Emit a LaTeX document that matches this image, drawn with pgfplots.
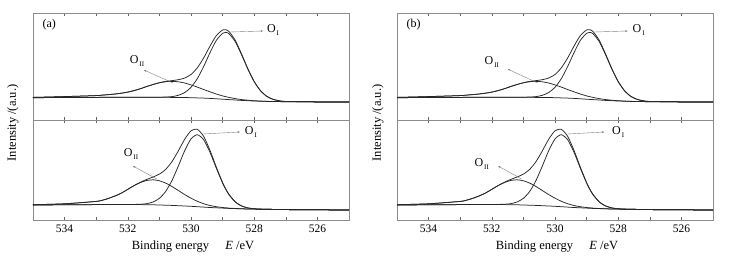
\documentclass[border=0pt]{standalone}
\usepackage{fontspec}
\setmainfont{Liberation Serif}
\usepackage{pgfplots}
\pgfplotsset{compat=1.18}
\usepackage{pgfplotstable}
\usetikzlibrary{arrows.meta}

% columns: energy, background, bg+O_I, bg+O_II, envelope
\pgfplotstableread{
x bg p1 p2 env
525 17.9 17.9 17.9 17.9
526 18.1 18.1 18.1 18.1
527.0 18.3 18.56 18.3 18.56
527.2 18.4 19.18 18.41 19.19
527.4 18.5 20.60 18.53 20.63
527.6 18.6 23.57 18.66 23.63
527.8 18.8 29.21 18.93 29.34
528.0 19.0 38.26 19.25 38.51
528.2 19.3 50.82 19.8 51.32
528.4 19.6 65.20 20.4 66.00
528.6 20.0 78.34 21.4 79.74
528.8 20.4 86.38 22.6 88.58
528.9 20.6 87.60 23.3 90.30
529.0 20.8 86.78 24.1 90.08
529.2 21.2 79.54 26.0 84.34
529.4 21.6 67.20 28.2 73.80
529.6 21.9 53.42 30.5 62.02
529.8 22.1 41.36 32.9 52.16
530.0 22.3 32.71 35.1 45.51
530.2 22.5 27.47 37.0 41.97
530.4 22.6 24.70 38.2 40.30
530.6 22.6 23.38 38.6 39.38
530.8 22.7 22.96 38.3 38.56
531.0 22.7 22.78 37.2 37.28
531.2 22.7 22.7 35.5 35.5
531.4 22.7 22.7 33.5 33.5
531.6 22.7 22.7 31.3 31.3
531.8 22.7 22.7 29.4 29.4
532.0 22.7 22.7 27.9 27.9
532.2 22.7 22.7 26.8 26.8
532.4 22.7 22.7 26.0 26.0
532.6 22.7 22.7 25.4 25.4
532.8 22.7 22.7 24.9 24.9
533.0 22.6 22.6 24.4 24.4
534 22.5 22.5 23.4 23.4
535 22.3 22.3 22.6 22.6
}\uppertab

\pgfplotstableread{
x bg p1 p2 env
525 10.0 10.0 10.0 10.0
526 10.2 10.2 10.2 10.2
527.0 10.4 10.4 10.4 10.4
527.2 10.5 10.5 10.5 10.5
527.4 10.6 10.61 10.6 10.61
527.6 10.7 10.72 10.7 10.72
527.8 10.8 10.90 10.8 10.90
528.0 10.9 11.24 10.91 11.25
528.2 11.0 12.05 11.02 12.07
528.4 11.2 14.02 11.25 14.07
528.6 11.4 18.07 11.53 18.20
528.8 11.6 25.39 11.88 25.67
528.9 11.8 30.67 12.20 31.07
529.0 11.9 36.90 12.47 37.47
529.2 12.2 51.92 13.30 53.02
529.4 12.5 67.77 14.49 69.76
529.6 12.9 80.29 16.28 83.67
529.8 13.3 85.30 18.71 90.71
530.0 13.7 81.09 21.82 89.21
530.2 14.0 69.27 25.44 80.71
530.4 14.3 54.02 29.46 69.18
530.6 14.6 39.60 33.47 58.47
530.8 14.8 28.59 36.86 50.65
531.0 15.0 21.67 39.23 45.90
531.2 15.2 18.02 40.20 43.02
531.4 15.3 16.35 39.53 40.58
531.6 15.4 15.74 37.46 37.80
531.8 15.5 15.60 34.37 34.47
532.0 15.5 15.52 30.66 30.68
532.2 15.5 15.5 26.94 26.94
532.4 15.5 15.5 24.1 24.1
532.6 15.5 15.5 21.7 21.7
532.8 15.4 15.4 19.8 19.8
533.0 15.4 15.4 18.6 18.6
534 15.2 15.2 16.2 16.2
535 15.0 15.0 15.3 15.3
}\lowertab

\pgfplotsset{
  xps/.style={
    scale only axis, width=316pt, anchor=south west,
    xmin=525, xmax=535, x dir=reverse, ymin=0,
    ytick=\empty, xtick={526,528,...,534}, minor xtick={525,527,...,535},
    tick align=inside, major tick length=3pt, minor tick length=3pt,
    axis line style={draw=black!45, line width=0.7pt},
    every tick/.style={black!60, line width=0.5pt},
    xticklabel style={font=\fontsize{11.5}{11.5}\selectfont, yshift=-1pt},
    /pgf/number format/assume math mode=true,
  },
  curve/.style={black!85, line width=0.75pt, smooth, tension=0.4, mark=none},
}
\tikzset{
  lab/.style={font=\fontsize{12}{12}\selectfont, inner sep=0pt},
  arr/.style={draw=black!50, line width=0.4pt, -{Stealth[length=2.5pt,width=2pt]}},
  ttl/.style={font=\fontsize{12.5}{12.5}\selectfont},
}

\newcommand{\OI}{O\hspace{1pt}\raisebox{-0.45ex}{\fontsize{7}{7}\selectfont I}}
\newcommand{\OII}{O\hspace{1pt}\raisebox{-0.45ex}{\fontsize{7}{7}\selectfont II}}

\begin{document}
\begin{tikzpicture}
\useasboundingbox (0pt,0pt) rectangle (730pt,260pt);

% ---------- panel (a) ----------
\begin{axis}[xps, at={(33pt,140pt)}, height=107pt, ymax=107, xticklabels=\empty]
  \addplot[curve] table[x=x,y=bg] {\uppertab};
  \addplot[curve] table[x=x,y=p1] {\uppertab};
  \addplot[curve] table[x=x,y=p2] {\uppertab};
  \addplot[curve] table[x=x,y=env] {\uppertab};
  \node[lab, anchor=west] at (rel axis cs:0.03,0.89) {(a)};
  \draw[arr] (axis cs:528.77,88) -- (axis cs:527.72,89);
  \node[lab, anchor=west] at (axis cs:527.6,90) {\OI};
  \draw[arr] (axis cs:530.57,37) -- (axis cs:531.49,50);
  \node[lab] at (axis cs:531.71,59) {\OII};
\end{axis}
\begin{axis}[xps, at={(33pt,40pt)}, height=100pt, ymax=100]
  \addplot[curve] table[x=x,y=bg] {\lowertab};
  \addplot[curve] table[x=x,y=p1] {\lowertab};
  \addplot[curve] table[x=x,y=p2] {\lowertab};
  \addplot[curve] table[x=x,y=env] {\lowertab};
  \draw[arr] (axis cs:529.62,86) -- (axis cs:528.45,88);
  \node[lab, anchor=west] at (axis cs:528.3,88) {\OI};
  \draw[arr] (axis cs:531.08,41) -- (axis cs:531.84,54);
  \node[lab] at (axis cs:531.9,66) {\OII};
\end{axis}
\node[rotate=90, ttl] at (13pt,137pt) {Intensity /(a.u.)};
\node[ttl] at (193pt,13pt) {Binding energy\hspace{1.3em}\textit{E} /eV};

% ---------- panel (b) ----------
\begin{axis}[xps, at={(397pt,140pt)}, height=107pt, ymax=107, xticklabels=\empty]
  \addplot[curve] table[x=x,y=bg] {\uppertab};
  \addplot[curve] table[x=x,y=p1] {\uppertab};
  \addplot[curve] table[x=x,y=p2] {\uppertab};
  \addplot[curve] table[x=x,y=env] {\uppertab};
  \node[lab, anchor=west] at (rel axis cs:0.03,0.89) {(b)};
  \draw[arr] (axis cs:528.75,88) -- (axis cs:527.7,89);
  \node[lab, anchor=west] at (axis cs:527.55,90) {\OI};
  \draw[arr] (axis cs:530.55,37) -- (axis cs:531.5,51);
  \node[lab] at (axis cs:532.0,58) {\OII};
\end{axis}
\begin{axis}[xps, at={(397pt,40pt)}, height=100pt, ymax=100]
  \addplot[curve] table[x=x,y=bg] {\lowertab};
  \addplot[curve] table[x=x,y=p1] {\lowertab};
  \addplot[curve] table[x=x,y=p2] {\lowertab};
  \addplot[curve] table[x=x,y=env] {\lowertab};
  \draw[arr] (axis cs:529.6,86) -- (axis cs:528.44,88);
  \node[lab, anchor=west] at (axis cs:528.2,88) {\OI};
  \draw[arr] (axis cs:531.06,41) -- (axis cs:531.8,54);
  \node[lab] at (axis cs:532.32,56) {\OII};
\end{axis}
\node[rotate=90, ttl] at (378pt,137pt) {Intensity /(a.u.)};
\node[ttl] at (557pt,13pt) {Binding energy\hspace{1.3em}\textit{E} /eV};
\end{tikzpicture}
\end{document}
